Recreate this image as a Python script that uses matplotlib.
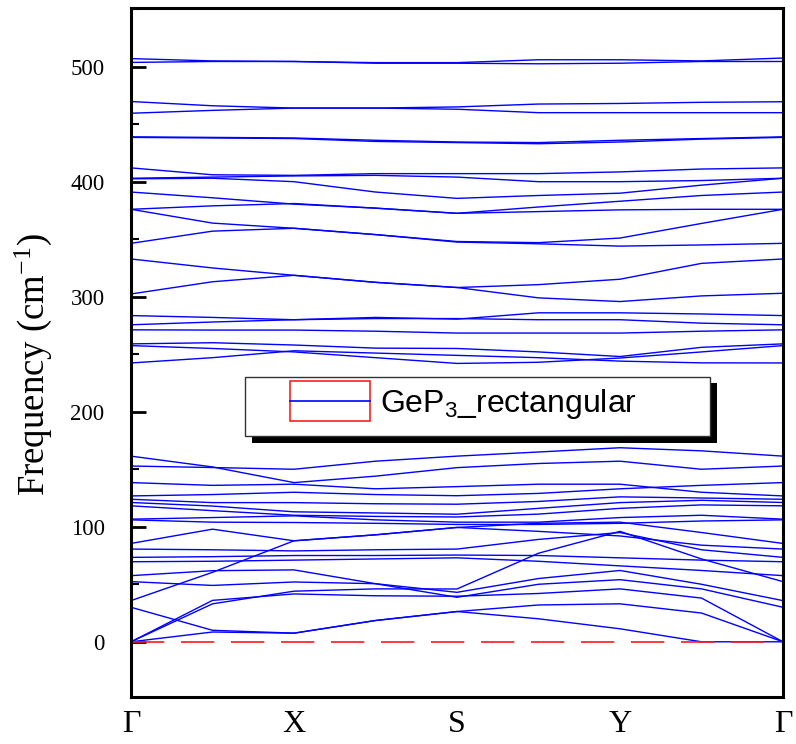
import matplotlib
matplotlib.use("Agg")
import matplotlib.pyplot as plt
from matplotlib.patches import Rectangle
from matplotlib.lines import Line2D
from matplotlib.ticker import MultipleLocator

plt.rcParams['font.family'] = ['Liberation Serif', 'DejaVu Serif']

# k-path sampling: Γ, mid, X, mid, S, mid, Y, mid, Γ
kpath = [0, 0.5, 1, 1.5, 2, 2.5, 3, 3.5, 4]
kticks = [0, 1, 2, 3, 4]
klabels = ["Γ", "X", "S", "Y", "Γ"]

# optical branches above 240 cm-1
bands_high = [
    [507.0, 505.0, 504.5, 503.5, 503.5, 506.0, 506.0, 505.0, 507.5],
    [503.7, 504.5, 504.5, 503.0, 503.0, 502.5, 503.0, 504.5, 504.5],
    [469.7, 466.0, 464.0, 464.0, 465.0, 467.5, 468.0, 469.0, 469.5],
    [459.5, 462.0, 464.0, 464.0, 463.0, 460.0, 460.0, 460.0, 460.0],
    [439.0, 438.5, 438.0, 436.0, 434.5, 434.0, 436.0, 437.5, 439.0],
    [438.5, 438.0, 437.5, 435.0, 434.0, 433.0, 434.5, 437.0, 438.5],
    [412.0, 406.0, 405.5, 407.0, 407.0, 407.0, 408.5, 411.0, 412.0],
    [403.0, 404.0, 405.0, 405.5, 404.0, 400.0, 400.0, 401.0, 403.0],
    [402.5, 403.0, 400.0, 391.0, 385.5, 388.0, 390.0, 397.0, 403.0],
    [391.0, 386.0, 380.5, 377.0, 372.5, 378.0, 383.0, 388.0, 391.0],
    [376.0, 379.0, 381.0, 377.0, 372.5, 374.0, 375.5, 376.0, 376.0],
    [346.4, 357.0, 359.5, 354.0, 348.0, 347.0, 351.0, 363.7, 376.0],
    [376.0, 364.0, 359.5, 354.0, 347.5, 346.0, 344.0, 345.0, 346.4],
    [302.4, 313.0, 318.6, 312.5, 308.0, 299.0, 295.8, 300.7, 303.0],
    [332.8, 325.0, 318.6, 312.5, 308.0, 310.5, 315.2, 329.0, 332.8],
    [283.6, 282.0, 280.0, 282.0, 280.5, 286.0, 286.0, 285.0, 283.6],
    [275.6, 278.0, 280.0, 281.0, 281.0, 280.0, 280.0, 277.0, 275.6],
    [271.2, 271.0, 271.0, 270.0, 268.4, 268.4, 268.4, 270.0, 271.2],
    [259.0, 260.0, 258.0, 255.3, 255.0, 252.0, 248.0, 256.0, 259.0],
    [257.5, 255.0, 252.0, 247.0, 242.0, 243.0, 246.7, 252.0, 257.5],
    [242.4, 247.0, 253.0, 251.0, 249.0, 247.0, 244.0, 242.5, 242.4],
]

# branches between 100 and 170 cm-1
bands_mid = [
    [161.4, 152.0, 138.4, 144.0, 151.4, 155.0, 157.0, 150.0, 152.8],
    [152.8, 151.5, 150.0, 157.0, 161.4, 165.0, 168.7, 166.0, 161.4],
    [138.4, 136.0, 137.0, 133.0, 134.9, 137.0, 137.0, 130.0, 126.8],
    [126.8, 128.0, 130.0, 128.0, 127.0, 129.0, 133.0, 136.0, 138.4],
    [123.9, 121.0, 121.0, 120.0, 119.6, 122.0, 126.0, 125.0, 123.9],
    [121.1, 118.0, 113.0, 112.0, 110.9, 116.0, 121.0, 123.0, 121.1],
    [118.2, 114.0, 110.0, 109.0, 108.5, 111.0, 116.0, 119.0, 118.2],
    [106.6, 108.0, 109.5, 106.0, 104.0, 104.0, 108.0, 110.0, 106.6],
    [106.0, 104.0, 103.7, 103.0, 102.0, 102.0, 103.0, 105.0, 106.0],
]

# acoustic and low optical branches
bands_low = [
    [85.5, 97.9, 87.8, 93.0, 99.4, 103.0, 104.0, 95.0, 85.5],
    [35.8, 60.4, 87.8, 93.0, 99.4, 96.0, 92.0, 84.0, 80.6],
    [80.6, 80.0, 79.0, 80.0, 80.6, 89.0, 95.0, 80.0, 73.4],
    [73.4, 74.0, 75.0, 75.0, 75.4, 75.0, 73.0, 71.0, 69.6],
    [69.6, 70.0, 71.0, 72.0, 73.0, 70.0, 66.0, 62.0, 57.5],
    [0.0, 33.0, 44.0, 46.0, 45.9, 77.0, 96.0, 72.0, 52.3],
    [57.5, 61.8, 62.5, 50.5, 43.0, 55.0, 62.0, 50.0, 35.8],
    [52.3, 49.0, 52.0, 50.5, 38.7, 50.0, 54.0, 46.0, 30.0],
    [0.0, 36.0, 41.6, 40.0, 39.6, 42.0, 46.0, 38.0, 0.0],
    [30.0, 10.0, 7.5, 18.5, 26.3, 32.0, 33.0, 25.0, 0.0],
    [0.0, 8.5, 7.5, 18.5, 26.3, 20.0, 11.3, 0.0, 0.0],
]

W, H = 796, 744
fig = plt.figure(figsize=(W / 100, H / 100), dpi=100)
ax = fig.add_axes([131 / W, 1 - 697 / H, 652 / W, 689 / H])

for b in bands_high + bands_mid + bands_low:
    ax.plot(kpath, b, color='#0000ff', lw=1.0)
ax.axhline(0, color='#ff1a1a', lw=1.2, dashes=(20, 10))

ax.set_xlim(0, 4)
ax.set_ylim(-48, 551)
ax.set_xticks(kticks)
ax.set_xticklabels(klabels)
ax.yaxis.set_major_locator(MultipleLocator(100))
ax.yaxis.set_minor_locator(MultipleLocator(50))
ax.set_yticks([0, 100, 200, 300, 400, 500])
ax.tick_params(axis='y', which='major', direction='in', length=11, width=2,
               pad=19, labelsize=16.5, right=False)
ax.tick_params(axis='y', which='minor', direction='in', length=6, width=1.5,
               right=False)
ax.tick_params(axis='x', length=0, pad=9, labelsize=23)
for s in ax.spines.values():
    s.set_linewidth(2.2)

fig.text(33 / W, 1 - 365 / H, "Frequency (cm$\\mathregular{^{-1}}$)",
         rotation=90, ha='center', va='center', fontsize=26.5)

# legend box with drop shadow
def fx(x):
    return x / W

def fy(y):
    return 1 - y / H

fig.add_artist(Rectangle((fx(252), fy(443)), fx(717) - fx(252), fy(383) - fy(443),
                         transform=fig.transFigure, facecolor='black',
                         edgecolor='black', lw=0))
fig.add_artist(Rectangle((fx(245), fy(436)), fx(710) - fx(245), fy(377) - fy(436),
                         transform=fig.transFigure, facecolor='white',
                         edgecolor='#333333', lw=1.0))
fig.add_artist(Rectangle((fx(290), fy(421)), fx(370) - fx(290), fy(381) - fy(421),
                         transform=fig.transFigure, facecolor='none',
                         edgecolor='#ff2020', lw=1.2))
fig.add_artist(Line2D([fx(290), fx(370)], [fy(401), fy(401)],
                      transform=fig.transFigure, color='#0000ff', lw=1.2))
fig.text(fx(380), fy(412), "GeP$\\mathregular{_3}$_rectangular",
         family='Liberation Sans', fontsize=23, ha='left', va='baseline')

fig.savefig("out.png", dpi=100)
